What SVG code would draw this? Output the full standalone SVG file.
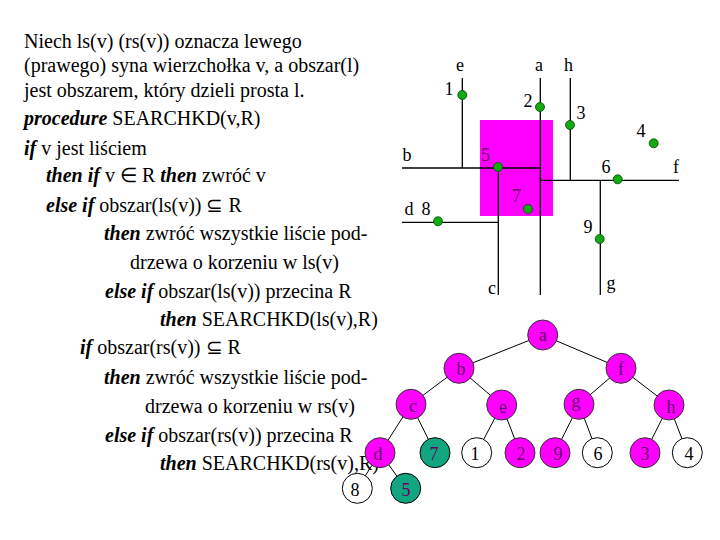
<svg xmlns="http://www.w3.org/2000/svg" width="720" height="540" viewBox="0 0 720 540">
<style>
text{font-family:"Liberation Serif","Times New Roman",serif;font-size:20px;fill:#000}
.k{font-weight:bold;font-style:italic}
.lb{font-size:18px}
.nl{font-size:18px;text-anchor:middle;dominant-baseline:central}
.nm{fill:#660066}
.pl{stroke:#000;stroke-width:1.3;fill:none}
.ed{stroke:#000;stroke-width:1;fill:none}
.pt{fill:#11aa11;stroke:#064406;stroke-width:0.8}
.mag{fill:#ff00ff;stroke:#333;stroke-width:1}
.wht{fill:#fff;stroke:#000;stroke-width:1}
.tea{fill:#11a580;stroke:#000;stroke-width:1}
</style>
<rect width="720" height="540" fill="#fff"/>
<g id="pseudocode">
<text x="24" y="48">Niech ls(v) (rs(v)) oznacza lewego</text>
<text x="24" y="72">(prawego) syna wierzchołka v, a obszar(l)</text>
<text x="24" y="97">jest obszarem, który dzieli prosta l.</text>
<text x="24" y="125"><tspan class="k">procedure</tspan> SEARCHKD(v,R)</text>
<text x="24" y="155"><tspan class="k">if</tspan> v jest liściem</text>
<text x="46" y="182"><tspan class="k">then if</tspan>  v ∈ R <tspan class="k">then</tspan> zwróć v</text>
<text x="46" y="212"><tspan class="k">else if</tspan> obszar(ls(v)) ⊆ R</text>
<text x="104" y="240"><tspan class="k">then</tspan> zwróć wszystkie liście pod-</text>
<text x="130" y="269">drzewa o korzeniu w ls(v)</text>
<text x="105" y="298"><tspan class="k">else if</tspan> obszar(ls(v)) przecina R</text>
<text x="160" y="326"><tspan class="k">then</tspan> SEARCHKD(ls(v),R)</text>
<text x="80" y="354"><tspan class="k">if</tspan> obszar(rs(v)) ⊆ R</text>
<text x="104" y="384"><tspan class="k">then</tspan> zwróć wszystkie liście pod-</text>
<text x="145" y="413">drzewa o korzeniu w rs(v)</text>
<text x="105" y="442"><tspan class="k">else if</tspan> obszar(rs(v)) przecina R</text>
<text x="160" y="470"><tspan class="k">then</tspan> SEARCHKD(rs(v),R)</text>
</g>
<g id="region-R"><rect x="480" y="120" width="73" height="96" fill="#ff00ff"/></g>
<g id="plot-lines">
<line class="pl" x1="462.3" y1="78" x2="462.3" y2="168"/>
<line class="pl" x1="540.3" y1="78" x2="540.3" y2="295"/>
<line class="pl" x1="570.3" y1="78" x2="570.3" y2="180.3"/>
<line class="pl" x1="402" y1="168" x2="540.3" y2="168"/>
<line class="pl" x1="540.3" y1="180.3" x2="679" y2="180.3"/>
<line class="pl" x1="498.3" y1="168" x2="498.3" y2="295"/>
<line class="pl" x1="402" y1="222.3" x2="498.3" y2="222.3"/>
<line class="pl" x1="600.3" y1="180.3" x2="600.3" y2="295"/>
</g>
<g id="plot-labels" class="lb">
<text class="lb" x="456" y="71">e</text>
<text class="lb" x="535" y="71">a</text>
<text class="lb" x="564" y="71">h</text>
<text class="lb" x="407" y="161" text-anchor="middle">b</text>
<text class="lb" x="676" y="173" text-anchor="middle">f</text>
<text class="lb" x="409" y="215" text-anchor="middle">d</text>
<text class="lb" x="492" y="294" text-anchor="middle">c</text>
<text class="lb" x="611" y="289" text-anchor="middle">g</text>
</g>
<g id="plot-points">
<g id="p1"><circle class="pt" cx="462.3" cy="95" r="4.5"/><text class="lb" x="449" y="95" text-anchor="middle">1</text></g>
<g id="p2"><circle class="pt" cx="540" cy="107" r="4.5"/><text class="lb" x="528" y="107" text-anchor="middle">2</text></g>
<g id="p3"><circle class="pt" cx="570" cy="125" r="4.5"/><text class="lb" x="581" y="119" text-anchor="middle">3</text></g>
<g id="p4"><circle class="pt" cx="653.7" cy="143.3" r="4.5"/><text class="lb" x="641" y="137" text-anchor="middle">4</text></g>
<g id="p5"><circle class="pt" cx="498" cy="167" r="4.5"/><text class="lb nm" x="485.5" y="161" text-anchor="middle">5</text></g>
<g id="p6"><circle class="pt" cx="617.7" cy="179.3" r="4.5"/><text class="lb" x="606" y="173" text-anchor="middle">6</text></g>
<g id="p7"><circle class="pt" cx="528" cy="209" r="4.5"/><text class="lb nm" x="516.5" y="202" text-anchor="middle">7</text></g>
<g id="p8"><circle class="pt" cx="438" cy="221.3" r="4.5"/><text class="lb" x="426" y="215" text-anchor="middle">8</text></g>
<g id="p9"><circle class="pt" cx="599.7" cy="239" r="4.5"/><text class="lb" x="588" y="233" text-anchor="middle">9</text></g>
</g>
<g id="connectors">
<line class="ed" x1="542.7" y1="335" x2="459" y2="368.3"/>
<line class="ed" x1="542.7" y1="335" x2="621" y2="368.3"/>
<line class="ed" x1="459" y1="368.3" x2="411" y2="404.3"/>
<line class="ed" x1="459" y1="368.3" x2="501.7" y2="405"/>
<line class="ed" x1="621" y1="368.3" x2="579" y2="404.3"/>
<line class="ed" x1="621" y1="368.3" x2="669" y2="405"/>
<line class="ed" x1="411" y1="404.3" x2="380" y2="452.7"/>
<line class="ed" x1="411" y1="404.3" x2="435" y2="452.7"/>
<line class="ed" x1="501.7" y1="405" x2="476.7" y2="452.7"/>
<line class="ed" x1="501.7" y1="405" x2="520" y2="452.7"/>
<line class="ed" x1="579" y1="404.3" x2="555" y2="452.7"/>
<line class="ed" x1="579" y1="404.3" x2="597.3" y2="452.7"/>
<line class="ed" x1="669" y1="405" x2="645" y2="452.7"/>
<line class="ed" x1="669" y1="405" x2="687.3" y2="452.7"/>
<line class="ed" x1="380" y1="452.7" x2="357.3" y2="488.3"/>
<line class="ed" x1="380" y1="452.7" x2="405.7" y2="488.3"/>
</g>
<g id="tree-nodes">
<g id="n-a"><circle class="mag" cx="542.7" cy="335" r="15"/><text class="nl nm" x="542.7" y="335">a</text></g>
<g id="n-b"><circle class="mag" cx="459" cy="368.3" r="15"/><text class="nl nm" x="461" y="369">b</text></g>
<g id="n-f"><circle class="mag" cx="621" cy="368.3" r="15"/><text class="nl nm" x="621" y="369">f</text></g>
<g id="n-c"><circle class="mag" cx="411" cy="404.3" r="15"/><text class="nl nm" x="413" y="406">c</text></g>
<g id="n-e"><circle class="mag" cx="501.7" cy="405" r="15"/><text class="nl nm" x="503" y="407">e</text></g>
<g id="n-g"><circle class="mag" cx="579" cy="404.3" r="15"/><text class="nl nm" x="576" y="401">g</text></g>
<g id="n-h"><circle class="mag" cx="669" cy="405" r="15"/><text class="nl nm" x="671" y="407">h</text></g>
<g id="n-d"><circle class="mag" cx="380" cy="452.7" r="15"/><text class="nl nm" x="378" y="454">d</text></g>
<g id="n-7"><circle class="tea" cx="435" cy="452.7" r="15"/><text class="nl nm" x="434" y="454">7</text></g>
<g id="n-1"><circle class="wht" cx="476.7" cy="452.7" r="15"/><text class="nl" x="475" y="454">1</text></g>
<g id="n-2"><circle class="mag" cx="520" cy="452.7" r="15"/><text class="nl nm" x="521" y="454">2</text></g>
<g id="n-9"><circle class="mag" cx="555" cy="452.7" r="15"/><text class="nl nm" x="558" y="454">9</text></g>
<g id="n-6"><circle class="wht" cx="597.3" cy="452.7" r="15"/><text class="nl" x="598" y="454">6</text></g>
<g id="n-3"><circle class="mag" cx="645" cy="452.7" r="15"/><text class="nl nm" x="645" y="454">3</text></g>
<g id="n-4"><circle class="wht" cx="687.3" cy="452.7" r="15"/><text class="nl" x="689" y="454">4</text></g>
<g id="n-8"><circle class="wht" cx="357.3" cy="488.3" r="15"/><text class="nl" x="355" y="490">8</text></g>
<g id="n-5"><circle class="tea" cx="405.7" cy="488.3" r="15"/><text class="nl nm" x="406" y="490">5</text></g>
</g>
</svg>
